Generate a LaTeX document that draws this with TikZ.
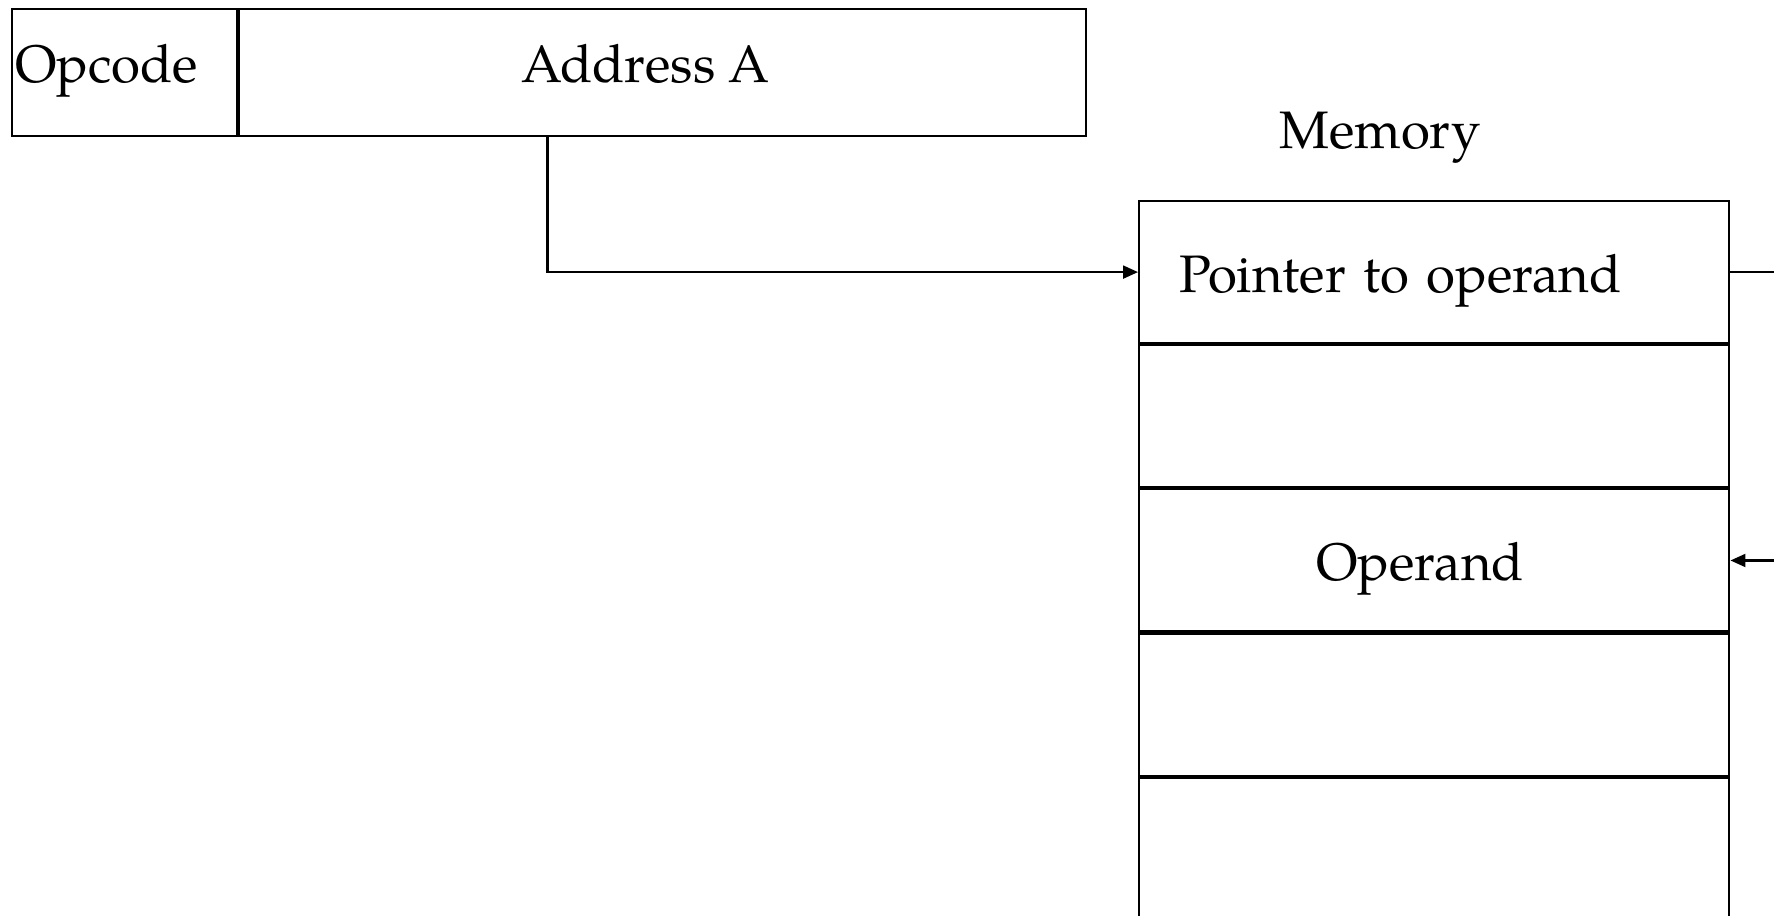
\documentclass[tikz,border=0pt]{standalone}
\usepackage{fontspec}
\setmainfont{texgyrepagella-regular.otf}
\usepackage{tikz}
\usetikzlibrary{arrows.meta,positioning}

\begin{document}
\begin{tikzpicture}[
  x=0.01cm, y=-0.01cm,
  font=\fontsize{15}{18}\selectfont,
  cell/.style={draw, line width=0.6pt, minimum height=1.27cm, inner sep=0pt},
  memcell/.style={draw, line width=0.6pt, minimum width=5.9cm, minimum height=1.42cm, inner sep=0pt},
  arrow/.style={-{Triangle[length=1.5mm,width=1.3mm]}, line width=0.6pt}
]
  \useasboundingbox (0,0) rectangle (1774,916);
  \clip (0,0) rectangle (1774,916);
  % instruction
  \node[cell, anchor=north west, minimum width=2.25cm, text width=2.19cm, align=left, inner xsep=0.03cm] (opcode) at (11,8) {\raisebox{-1.0mm}[0pt][0pt]{Opcode}};
  \node[cell, anchor=north west, minimum width=8.46cm] (addr) at (opcode.north east) {\hspace*{-0.34cm}\raisebox{-1.0mm}[0pt][0pt]{Address A}};
  % memory
  \node (memlbl) at (1380,138) {Memory};
  \node[memcell, anchor=north west, text width=5.1cm, align=left, inner xsep=0.4cm] (m1) at (1138,200) {\raisebox{-2.0mm}[0pt][0pt]{Pointer to operand}};
  \node[memcell, below=0pt of m1] (m2) {};
  \node[memcell, below=0pt of m2] (m3) {\hspace*{-0.28cm}\raisebox{-2.0mm}[0pt][0pt]{Operand}};
  \node[memcell, below=0pt of m3] (m4) {};
  \node[memcell, below=0pt of m4] (m5) {};
  % connectors
  \draw[arrow] ([xshift=-1.15cm]addr.south) |- (m1.west);
  \draw[arrow] (m1.east) -- ++(90,0) |- (m3.east);
\end{tikzpicture}
\end{document}
